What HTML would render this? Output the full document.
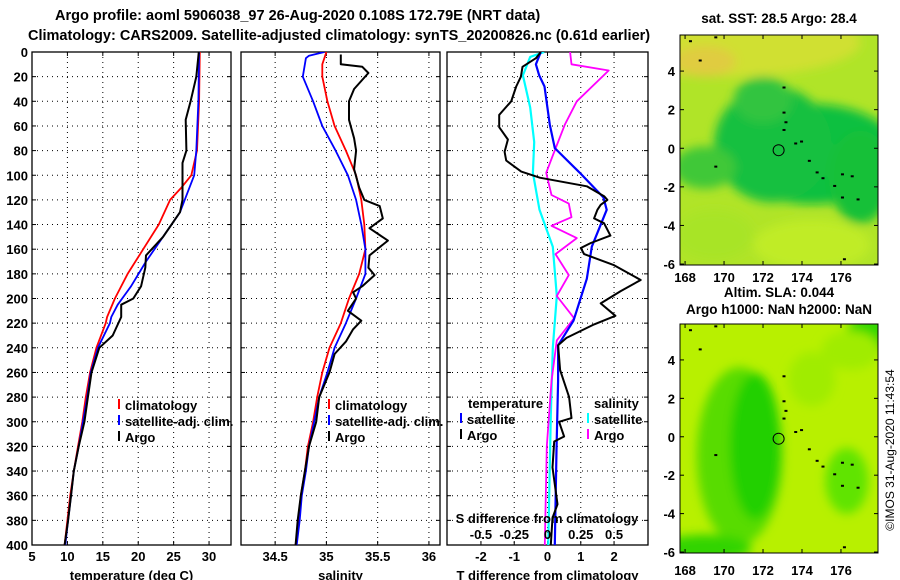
<!DOCTYPE html>
<html><head><meta charset="utf-8"><style>
html,body{margin:0;padding:0;background:#fff;}
svg{display:block;font-family:"Liberation Sans",Arial,sans-serif;font-weight:bold;}
</style></head><body>
<svg id="fig" width="900" height="580" viewBox="0 0 900 580" xmlns="http://www.w3.org/2000/svg">
<defs>
<filter id="bl" x="-50%" y="-50%" width="200%" height="200%"><feGaussianBlur stdDeviation="5"/></filter>
<clipPath id="c1"><rect x="32" y="52" width="199" height="493"/></clipPath>
<clipPath id="c2"><rect x="241" y="52" width="199" height="493"/></clipPath>
<clipPath id="c3"><rect x="447" y="52" width="201" height="493"/></clipPath>
<clipPath id="m1"><rect x="680" y="35" width="198" height="230"/></clipPath>
<clipPath id="m2"><rect x="680" y="324" width="198" height="229"/></clipPath>
</defs>
<text x="55" y="20" font-size="14.5">Argo profile: aoml 5906038_97 26-Aug-2020 0.108S 172.79E (NRT data)</text>
<text x="28" y="40" font-size="14.5">Climatology: CARS2009. Satellite-adjusted climatology: synTS_20200826.nc (0.61d earlier)</text>
<g id="charts"></g>
<g id="maps"></g>
<text transform="translate(894,450) rotate(-90)" font-size="12" font-weight="normal" text-anchor="middle">©IMOS 31-Aug-2020 11:43:54</text>
</svg>
<script>
// ---- data ----
const depthTicks=[0,20,40,60,80,100,120,140,160,180,200,220,240,260,280,300,320,340,360,380,400];
const tempTicks=[5,10,15,20,25,30];
const salTicks=[34.5,35,35.5,36];
const tdiffTicks=[-2,-1,0,1,2];
const sdiffTicks=[-0.5,-0.25,0,0.25,0.5];
const sdiffLabels=["-0.5","-0.25","0","0.25","0.5"];

const tClimDepth=[0,40,80,100,110,120,140,160,180,200,215,220,240,260,280,300,320,340,360,380,400];
const tClimVal=[28.7,28.6,28.3,27.5,26.1,24.5,22.9,20.7,18.5,16.7,15.6,15.4,14.1,13.2,12.6,12.1,11.5,10.9,10.4,10.0,9.6];
const tSatDepth=[0,40,80,100,115,130,150,170,190,205,215,220,240,260,280,300,320,340,360,380,400];
const tSatVal=[28.6,28.5,28.2,27.9,26.9,25.9,23.5,21.1,19.0,17.1,16.2,16.0,14.3,13.3,12.8,12.2,11.6,10.9,10.5,10.1,9.7];
const tArgoDepth=[0,20,40,55,80,90,120,130,150,165,175,190,200,205,215,230,240,260,280,300,320,340,360,380,400];
const tArgoVal=[28.55,28.2,27.4,26.7,26.8,26.25,26.25,25.9,23.5,21.1,21.0,20.4,19.3,17.6,17.6,16.4,14.5,13.4,12.9,12.4,11.6,10.9,10.5,10.1,9.6];

const sClimDepth=[0,10,20,40,60,80,100,120,140,160,180,200,220,240,260,280,300,320,340,360,380,400];
const sClimVal=[35.0,34.96,34.96,35.01,35.08,35.19,35.29,35.34,35.37,35.38,35.32,35.22,35.14,35.03,34.96,34.91,34.87,34.82,34.79,34.75,34.73,34.70];
const sSatDepth=[0,3,5,20,40,60,80,100,120,140,160,180,200,220,240,260,280,300,320,340,360,380,400];
const sSatVal=[34.98,34.83,34.80,34.77,34.87,34.96,35.09,35.21,35.29,35.34,35.38,35.38,35.29,35.19,35.08,35.01,34.93,34.88,34.83,34.80,34.76,34.74,34.71];
const sArgoDepth=[2,10,12,17,30,40,55,70,80,95,110,120,125,135,143,153,165,175,181,190,195,200,210,218,225,235,245,260,280,300,320,340,360,380,400];
const sArgoVal=[35.14,35.14,35.35,35.41,35.27,35.22,35.22,35.27,35.29,35.27,35.32,35.37,35.52,35.55,35.42,35.60,35.42,35.41,35.47,35.35,35.26,35.29,35.21,35.34,35.26,35.19,35.08,35.03,34.93,34.90,34.83,34.79,34.75,34.72,34.70];

const dtArgoDepth=[0,5,12,20,28,40,51,61,71,81,88,97,102,109,117,120,124,128,135,139,149,155,159,164,173,185,194,204,214,221,232,238,258,280,297,300,312,316,337,367,378,400];
const dtArgoVal=[-0.2,-0.35,-0.75,-0.8,-0.94,-1.09,-1.45,-1.45,-1.19,-1.29,-1.24,-0.79,-0.23,1.18,1.7,1.8,1.6,1.5,1.4,1.7,1.89,1.3,1.0,1.1,2.0,2.8,2.2,1.6,2.04,1.4,0.57,0.32,0.38,0.65,0.72,0.35,0.5,0.2,0.15,0.3,0.15,0.1];
const dtSatDepth=[0,10,19,28,59,78,98,118,128,158,184,218,238,267,323,400];
const dtSatVal=[-0.2,-0.35,-0.25,-0.09,0.07,0.22,0.97,1.68,1.78,1.33,1.18,0.78,0.32,0.32,0.27,0.22];
const dsSatDepth=[0,4,19,45,73,98,128,158,198,240,295,400];
const dsSatVal=[-0.025,-0.13,-0.185,-0.13,-0.1,-0.11,-0.06,0.04,0.07,0.04,0.025,0.005];
const dsArgoDepth=[0,10,15,40,59,84,98,116,123,134,141,151,164,181,198,216,234,267,320,400];
const dsArgoVal=[0.17,0.18,0.46,0.22,0.13,0.04,-0.01,0.03,0.16,0.18,0.03,0.22,0.06,0.16,0.07,0.2,0.07,0.03,-0.005,-0.02];

const latTicks=[4,2,0,-2,-4,-6];
const lonTicks=[168,170,172,174,176];

// ---- helpers ----
const NS="http://www.w3.org/2000/svg";
const charts=document.getElementById('charts');
const maps=document.getElementById('maps');
function mk(tag,attrs,parent){const e=document.createElementNS(NS,tag);for(const k in attrs)e.setAttribute(k,attrs[k]);parent.appendChild(e);return e;}
const y0=52,y1=545;
function yD(d){return y0+(d/400)*(y1-y0);}
function scale(d0,d1,p0,p1){return v=>p0+(v-d0)/(d1-d0)*(p1-p0);}
const xT=scale(5,33.1,32,231);
const xS=scale(34.167,36.108,241,440);
const xDT=scale(-3.02,3.02,447,648);
const xDS=v=>xDT(v*4);

function panel(name,x0,x1,xs,ticks,labels,clip,xlabel){
  const g=mk('g',{},charts);
  
  
  ticks.forEach(t=>{
    const x=xs(t);
    if(x>x0+1&&x<x1-1){const l=mk('line',{x1:x,x2:x,y1:y0,y2:y1,stroke:'#000','stroke-width':1,'stroke-dasharray':'1 4'},g);
    
    }
  });
  depthTicks.forEach(d=>{
    const y=yD(d);
    if(d>0&&d<400){const l=mk('line',{x1:x0,x2:x1,y1:y,y2:y,stroke:'#000','stroke-width':1,'stroke-dasharray':'1 4'},g);
    
    }
    mk('line',{x1:x0,x2:x0+4,y1:y,y2:y,stroke:'#000'},g);
    mk('line',{x1:x1-4,x2:x1,y1:y,y2:y,stroke:'#000'},g);
  });
  ticks.forEach((t,i)=>{
    const x=xs(t);
    mk('line',{x1:x,x2:x,y1:y0,y2:y0+4,stroke:'#000'},g);
    mk('line',{x1:x,x2:x,y1:y1-4,y2:y1,stroke:'#000'},g);
    if(labels){const tx=mk('text',{x:x,y:y1+16,'font-size':13,'text-anchor':'middle'},g);
    
    
    tx.textContent=labels[i];}
  });
  const r=mk('rect',{x:x0,y:y0,width:x1-x0,height:y1-y0,fill:'none',stroke:'#000','stroke-width':1.3},g);
  
  
  if(xlabel){const tx=mk('text',{x:(x0+x1)/2,y:580,'font-size':13,'text-anchor':'middle'},g);
  
  
  tx.textContent=xlabel;}
  return g;
}
function line(g,dep,val,xs,color,w,clip,name){
  const pts=dep.map((d,i)=>xs(val[i]).toFixed(1)+','+yD(d).toFixed(1)).join(' ');
  const p=mk('polyline',{points:pts,fill:'none',stroke:color,'stroke-width':w,'stroke-linejoin':'round','clip-path':'url(#'+clip+')'},g);
  
  
}
function legendEntry(g,x,y,color,label,name){
  const e=mk('g',{},g);
  
  
  mk('line',{x1:x,x2:x,y1:y-11,y2:y-1,stroke:color,'stroke-width':2},e);
  const t=mk('text',{x:x+6,y:y,'font-size':13},e);
  t.textContent=label;
}

// panel 1
const g1=panel('temperature-panel',32,231,xT,tempTicks,tempTicks.map(String),'c1','temperature (deg C)');
depthTicks.forEach(d=>{const t=mk('text',{x:28,y:yD(d)+5,'font-size':13,'text-anchor':'end'},g1);


t.textContent=d;});
line(g1,tClimDepth,tClimVal,xT,'#ff0000',1.8,'c1','temp-climatology-line');
line(g1,tSatDepth,tSatVal,xT,'#0000ff',1.8,'c1','temp-satellite-line');
line(g1,tArgoDepth,tArgoVal,xT,'#000',2,'c1','temp-argo-line');
legendEntry(g1,119,410,'#ff0000','climatology','legend-climatology');
legendEntry(g1,119,426,'#0000ff','satellite-adj. clim.','legend-satellite');
legendEntry(g1,119,442,'#000','Argo','legend-argo');

// panel 2
const g2=panel('salinity-panel',241,440,xS,salTicks,salTicks.map(String),'c2','salinity');
line(g2,sClimDepth,sClimVal,xS,'#ff0000',1.8,'c2','sal-climatology-line');
line(g2,sSatDepth,sSatVal,xS,'#0000ff',1.8,'c2','sal-satellite-line');
line(g2,sArgoDepth,sArgoVal,xS,'#000',2,'c2','sal-argo-line');
legendEntry(g2,329,410,'#ff0000','climatology','legend-climatology');
legendEntry(g2,329,426,'#0000ff','satellite-adj. clim.','legend-satellite');
legendEntry(g2,329,442,'#000','Argo','legend-argo');

// panel 3
const g3=panel('difference-panel',447,648,xDT,tdiffTicks,null,'c3','T difference from climatology');
tdiffTicks.forEach(t=>{const tx=mk('text',{x:xDT(t),y:y1+16,'font-size':13,'text-anchor':'middle'},g3);


tx.textContent=t;});
line(g3,dsSatDepth,dsSatVal,xDS,'#00ffff',2.2,'c3','sdiff-satellite-line');
line(g3,dsArgoDepth,dsArgoVal,xDS,'#ff00ff',1.8,'c3','sdiff-argo-line');
line(g3,dtSatDepth,dtSatVal,xDT,'#0000ff',2.2,'c3','tdiff-satellite-line');
line(g3,dtArgoDepth,dtArgoVal,xDT,'#000',2,'c3','tdiff-argo-line');
{const t=mk('text',{x:547,y:523,'font-size':13,'text-anchor':'middle'},g3);


t.textContent='S difference from climatology';}
sdiffTicks.forEach((s,i)=>{const t=mk('text',{x:xDS(s),y:539,'font-size':13,'text-anchor':'middle'},g3);


t.textContent=sdiffLabels[i];});
{const t=mk('text',{x:468,y:408,'font-size':13},g3);


t.textContent='temperature';}
{const t=mk('text',{x:594,y:408,'font-size':13},g3);


t.textContent='salinity';}
legendEntry(g3,461,424,'#0000ff','satellite','legend-t-satellite');
legendEntry(g3,461,440,'#000','Argo','legend-t-argo');
legendEntry(g3,588,424,'#00ffff','satellite','legend-s-satellite');
legendEntry(g3,588,440,'#ff00ff','Argo','legend-s-argo');

// ---- maps ----
const mlon=scale(167.74,177.9,680,878);
function mapPanel(name,top,bot,latTop,latBot,clip,blobs,titles,lblY){
  const g=mk('g',{},maps);
  
  
  const lat=scale(latTop,latBot,top,bot);
  const inner=mk('g',{'clip-path':'url(#'+clip+')'},g);
  mk('rect',{x:680,y:top,width:198,height:bot-top,fill:blobs[0]},inner);
  const bg=mk('g',{filter:'url(#bl)'},inner);
  blobs.slice(1).forEach(b=>{
    mk('ellipse',{cx:mlon(b[0]),cy:lat(b[1]),rx:b[2]*19.5,ry:b[3]*19.3,fill:b[4]},bg);
  });
  [[173,3.2],[173,1.9],[173.1,1.4],[173,1],[173.6,0.3],[173.9,0.4],[174.3,-0.6],[174.7,-1.2],[175,-1.5],[175.6,-1.9],[176,-1.3],[176.5,-1.4],[176,-2.5],[176.8,-2.6],[176.1,-5.7],[168.2,5.6],[168.7,4.6],[169.5,-0.9],[169.5,5.8]].forEach(p=>{
    mk('rect',{x:mlon(p[0]),y:lat(p[1]),width:3,height:2,fill:'#000'},inner);
  });
  const c=mk('circle',{cx:mlon(172.8),cy:lat(-0.1),r:5.5,fill:'none',stroke:'#000','stroke-width':1},inner);
  
  
  const fr=mk('rect',{x:680,y:top,width:198,height:bot-top,fill:'none',stroke:'#000','stroke-width':1},g);
  
  
  latTicks.forEach(v=>{const y=lat(v);
    mk('line',{x1:680,x2:684,y1:y,y2:y,stroke:'#000'},g);
    mk('line',{x1:874,x2:878,y1:y,y2:y,stroke:'#000'},g);
    const t=mk('text',{x:675,y:y+5,'font-size':13,'text-anchor':'end'},g);
    
    
    t.textContent=v;});
  lonTicks.forEach(v=>{const x=mlon(v);
    mk('line',{x1:x,x2:x,y1:top,y2:top+4,stroke:'#000'},g);
    mk('line',{x1:x,x2:x,y1:bot-4,y2:bot,stroke:'#000'},g);
    const t=mk('text',{x:x,y:lblY,'font-size':13,'text-anchor':'middle'},g);
    
    
    t.textContent=v;});
  titles.forEach(tt=>{const t=mk('text',{x:779,y:tt[0],'font-size':13.5,'text-anchor':'middle'},g);
    
    
    t.textContent=tt[1];});
}
mapPanel('sst-map',35,265,5.87,-6.05,'m1',
 ['#b0e428',[170,5.5,7,1.8,'#d0e030'],[169,4.5,1.6,0.8,'#e0cc40'],[174.5,-0.3,4.5,2.6,'#10c040'],[172.5,0.2,3,3,'#18c040'],[177,-1.5,1.6,2.4,'#18c038'],[172,2.5,1.5,1.2,'#30c440'],[169,-1,1.6,1.1,'#40c838'],[174.5,-5,3,1.3,'#c0ec28'],[169.5,-4.5,2,1.3,'#a8e428']],
 [[23,'sat. SST: 28.5 Argo: 28.4']],282);
mapPanel('sla-map',324,553,5.87,-6.05,'m2',
 ['#b8f000',[170.8,-1,2.2,4.6,'#58dc00'],[171.6,-0.5,1.3,3.8,'#20d000'],[177.6,5.4,1.3,1,'#30d800'],[176.3,-2.3,1.1,1.7,'#60e400'],[169,-5.8,2.4,0.7,'#30d400'],[174.5,3,1.2,1.4,'#a0ec00'],[176.5,4.5,1.5,1,'#a0ec00']],
 [[297,'Altim. SLA: 0.044'],[314,'Argo h1000: NaN h2000: NaN']],575);
</script>
</body></html>
